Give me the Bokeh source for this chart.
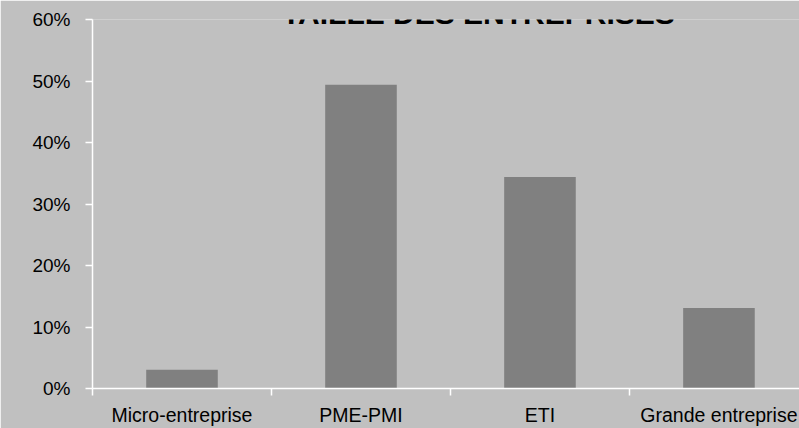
from bokeh.plotting import figure
from bokeh.models import Range1d, FixedTicker, NumeralTickFormatter, Label
from bokeh.embed import file_html
from bokeh.resources import INLINE

categories = ["Micro-entreprise", "PME-PMI", "ETI", "Grande entreprise"]
shares = [0.0305, 0.494, 0.344, 0.131]
y_ticks = [0, 0.1, 0.2, 0.3, 0.4, 0.5, 0.6]
title_text = "TAILLE DES ENTREPRISES"

FONT = "'Liberation Sans Narrow', 'Arial Narrow', 'Liberation Sans', sans-serif"
BG = "#c0c0c0"

centers = [i + 0.5 for i in range(len(categories))]
bounds = [float(i) for i in range(len(categories) + 1)]

p = figure(width=799, height=428, output_backend="svg", toolbar_location=None,
           x_range=Range1d(0, 3.95), y_range=Range1d(0, 0.6),
           min_border_left=92, min_border_right=0, min_border_top=19,
           min_border_bottom=40)
p.background_fill_color = BG
p.border_fill_color = BG
p.outline_line_color = None
p.grid.visible = False

p.vbar(x=centers, top=shares, width=0.4, fill_color="#808080", line_color=None)

# x axis
xa = p.xaxis[0]
xa.ticker = FixedTicker(ticks=centers, minor_ticks=bounds)
xa.major_label_overrides = {c: n for c, n in zip(centers, categories)}
xa.major_tick_line_color = None
xa.major_tick_out = 0
xa.major_tick_in = 0
xa.minor_tick_line_color = "white"
xa.minor_tick_line_width = 1.5
xa.minor_tick_out = 7
xa.minor_tick_in = 0
xa.axis_line_color = "white"
xa.axis_line_width = 1.5
xa.major_label_text_font = FONT
xa.major_label_text_font_size = "19.5px"
xa.major_label_text_color = "black"
xa.major_label_standoff = 8

# y axis
ya = p.yaxis[0]
ya.ticker = FixedTicker(ticks=y_ticks)
ya.formatter = NumeralTickFormatter(format="0%")
ya.axis_line_color = "white"
ya.axis_line_width = 1.5
ya.major_tick_line_color = "white"
ya.major_tick_line_width = 1.5
ya.major_tick_out = 7
ya.major_tick_in = 0
ya.minor_tick_line_color = None
ya.major_label_text_font = FONT
ya.major_label_text_font_size = "19px"
ya.major_label_text_color = "black"
ya.major_label_standoff = 15

p.add_layout(Label(x=2.156, y=0.6093, text=title_text, text_align="center",
                   text_baseline="alphabetic", text_font=FONT,
                   text_font_style="bold", text_font_size="30px",
                   text_color="black"))

open("out.html", "w").write(file_html(p, INLINE))
